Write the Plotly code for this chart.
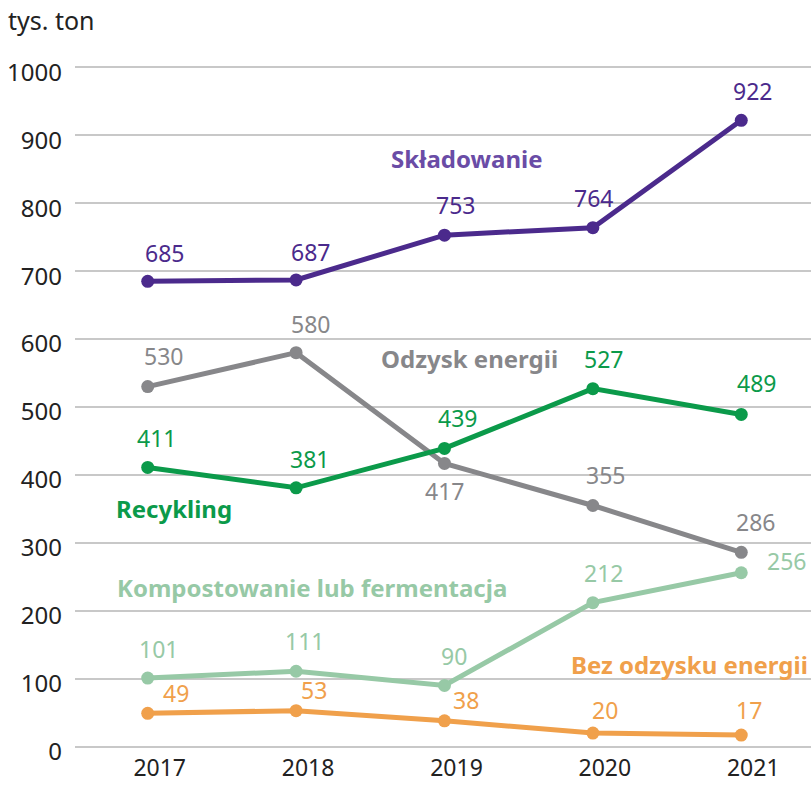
import plotly.graph_objects as go

years = [2017, 2018, 2019, 2020, 2021]
skladowanie = [685, 687, 753, 764, 922]
odzysk_energii = [530, 580, 417, 355, 286]
recykling = [411, 381, 439, 527, 489]
kompostowanie = [101, 111, 90, 212, 256]
bez_odzysku = [49, 53, 38, 20, 17]

y_ticks = [0, 100, 200, 300, 400, 500, 600, 700, 800, 900, 1000]

FONT = "Noto Sans"

series = [
    dict(name="Składowanie", y=skladowanie, color="#4b2a8c", label_color="#4b2a8c", name_color="#6a4ca6",
         offsets=[(17, 28), (14, 28), (11, 30), (1, 30), (11, 29)],
         name_pos=dict(x=2019.15, y=866)),
    dict(name="Odzysk energii", y=odzysk_energii, color="#87878a", label_color="#87878a", name_color="#87878a",
         offsets=[(16, 31), (14, 29), (0, -28), (13, 31), (14, 30)],
         name_pos=dict(x=2019.17, y=572)),
    dict(name="Recykling", y=recykling, color="#0b9a4a", label_color="#0b9a4a", name_color="#0b9a4a",
         offsets=[(9, 29), (13, 29), (13, 30), (11, 30), (15, 31)],
         name_pos=dict(x=2017.18, y=351)),
    dict(name="Kompostowanie lub fermentacja", y=kompostowanie, color="#97c9a6", label_color="#97c9a6", name_color="#97c9a6",
         offsets=[(11, 29), (8, 30), (10, 30), (11, 30), (45, 12)],
         name_pos=dict(x=2018.11, y=235)),
    dict(name="Bez odzysku energii", y=bez_odzysku, color="#f0a04b", label_color="#f0a04b", name_color="#f0a04b",
         offsets=[(28, 20), (18, 21), (22, 21), (12, 23), (8, 25)],
         name_pos=dict(x=1, y=121, xref="paper", xanchor="right", xshift=-1)),
]

fig = go.Figure()
annotations = []
for s in series:
    fig.add_trace(go.Scatter(
        x=years, y=s["y"], mode="lines+markers", name=s["name"],
        line=dict(color=s["color"], width=5),
        marker=dict(color=s["color"], size=13),
        showlegend=False, hoverinfo="skip",
    ))
    for xv, yv, (dx, dy) in zip(years, s["y"], s["offsets"]):
        annotations.append(dict(
            x=xv, y=yv, xref="x", yref="y", text=str(yv), showarrow=False,
            xshift=dx, yshift=dy, font=dict(family=FONT, size=23, color=s["label_color"]),
        ))
    np_ = dict(xref="x", yref="y")
    np_.update(s["name_pos"])
    np_.update(dict(text="<b>" + s["name"] + "</b>", showarrow=False,
                    font=dict(family=FONT, size=24, color=s["name_color"])))
    annotations.append(np_)

annotations.append(dict(
    x=0, y=1, xref="paper", yref="paper", xanchor="left", yanchor="middle",
    text="tys. ton", showarrow=False, font=dict(family=FONT, size=25, color="#222222"),
    xshift=-69, yshift=46,
))

fig.update_layout(
    width=811, height=786,
    margin=dict(l=75, r=0, t=65.6, b=37.6, pad=0, autoexpand=False),
    plot_bgcolor="white", paper_bgcolor="white",
    annotations=annotations,
    font=dict(family=FONT, size=24, color="#222222"),
)
fig.update_xaxes(
    range=[2016.51, 2021.47], tickvals=years, ticktext=[str(y) for y in years],
    showgrid=False, zeroline=False, showline=False, ticks="", automargin=False,
    ticklabelshift=12, ticklabelstandoff=4,
    tickfont=dict(family=FONT, size=23, color="#222222"),
)
fig.update_yaxes(
    range=[-2, 1002], tickvals=y_ticks, ticktext=[str(t) for t in y_ticks],
    showgrid=True, gridcolor="#c8c8c8", gridwidth=1.5, zeroline=False, showline=False,
    ticks="", ticklabelstandoff=12, ticklabelshift=5, automargin=False,
    tickfont=dict(family=FONT, size=24, color="#222222"),
)

fig.write_html("out.html", config={"displayModeBar": False},
               post_script="document.body.style.margin='0';document.body.style.overflow='hidden';")
